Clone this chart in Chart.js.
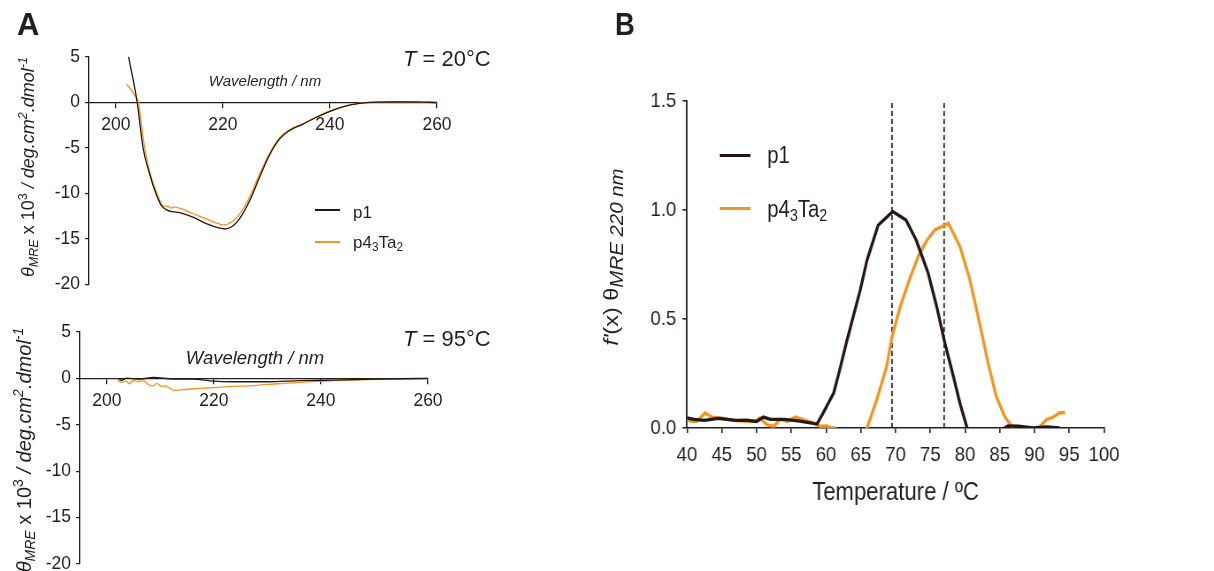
<!DOCTYPE html>
<html>
<head>
<meta charset="utf-8">
<script src="https://cdn.jsdelivr.net/npm/chart.js@4"></script>
<style>
body { margin: 0; width: 1214px; height: 571px; overflow: hidden; background: #fff; position: relative;
       font-family: "Liberation Sans", Arial, sans-serif; color: #231f20; }
canvas { position: absolute; }
.t { position: absolute; white-space: nowrap; line-height: 1; }
.c { transform: translate(-50%, -50%); }
.r { transform: translate(-50%, -50%) rotate(-90deg); }
.v { transform: translateY(-50%); }
sub, sup { font-size: 0.7em; line-height: 0; }
sub { vertical-align: -0.3em; }
sup { vertical-align: 0.55em; }
.sw { position: absolute; }
#panelB { position: absolute; left: 600px; top: 0; width: 640px; height: 571px; transform: scaleX(0.885); transform-origin: 0 0; }
</style>
</head>
<body>

<canvas id="cd20" width="470" height="300" style="left:0;top:0"></canvas>
<canvas id="cd95" width="470" height="290" style="left:0;top:300px"></canvas>

<div class="t" style="left:17px;top:9px;font-size:31px;font-weight:bold">A</div>
<div class="t" style="left:403px;top:48px;font-size:22px"><i>T</i> = 20°C</div>
<div class="t" style="left:403px;top:328px;font-size:22px"><i>T</i> = 95°C</div>
<div class="t c" style="left:265px;top:80px;font-size:15px;font-style:italic">Wavelength / nm</div>
<div class="t c" style="left:255px;top:358px;font-size:18.5px;font-style:italic">Wavelength / nm</div>
<div class="t r" style="left:28px;top:167px;font-size:18px"><i>θ<sub>MRE</sub></i> x 10<sup>3</sup> <i>/ deg.cm<sup>2</sup>.dmol<sup>-1</sup></i></div>
<div class="t r" style="left:24px;top:450px;font-size:20px"><i>θ<sub>MRE</sub></i> x 10<sup>3</sup> <i>/ deg.cm<sup>2</sup>.dmol<sup>-1</sup></i></div>

<div class="sw" style="left:315px;top:209.4px;width:25px;height:1.3px;background:#231815"></div>
<div class="t v" style="left:353px;top:212px;font-size:17px">p1</div>
<div class="sw" style="left:315px;top:241.4px;width:25px;height:1.3px;background:#f7941d"></div>
<div class="t v" style="left:353px;top:242px;font-size:17px">p4<sub>3</sub>Ta<sub>2</sub></div>

<div id="panelB">
  <canvas id="deriv" width="640" height="571" style="left:0;top:0"></canvas>
  <div class="t" style="left:17px;top:9px;font-size:31px;font-weight:bold">B</div>
  <div class="t r" style="left:13px;top:257px;font-size:23.5px"><i>f'</i>(x) θ<sub style="font-size:0.87em"><i>MRE 220 nm</i></sub></div>
  <div class="sw" style="left:134.5px;top:153.5px;width:35px;height:3px;background:#231815"></div>
  <div class="t v" style="left:189px;top:155px;font-size:23px">p1</div>
  <div class="sw" style="left:134.5px;top:206.8px;width:35px;height:3px;background:#f7941d"></div>
  <div class="t v" style="left:189px;top:209px;font-size:23px">p4<sub>3</sub>Ta<sub>2</sub></div>
</div>

<script>
// panel A, CD spectra
const wlTicks = [200, 220, 240, 260];
const cdTicks = [5, 0, -5, -10, -15, -20];

const wl20P1 = [202.4, 204, 205.1, 206.3, 207.5, 208.5, 209.5, 210.5, 211.9, 214.4, 216.9, 219.4, 220.3, 221.8, 223.1, 225, 226.8, 228.7, 230.6, 232.4, 234.9, 237.4, 239.9, 242.4, 245.5, 248.6, 251.7, 255.5, 260];
const th20P1 = [5.0, 0, -5, -7.8, -10, -11.3, -11.8, -12.0, -12.1, -12.6, -13.3, -13.8, -13.9, -13.6, -12.8, -10.8, -8.3, -5.8, -4.0, -3.1, -2.4, -1.65, -1.0, -0.47, -0.1, 0.04, 0.07, 0.07, 0];
const wl20P4 = [202.0, 202.9, 203.5, 204.2, 205.4, 206.5, 207.7, 208.8, 209.7, 210.3, 210.9, 211.9, 214.4, 216.9, 219.4, 220.3, 221.8, 223.1, 225, 226.8, 228.7, 230.6, 232.4, 234.9, 237.4, 239.9, 242.4, 245.5, 248.6, 251.7, 255.5, 260];
const th20P4 = [2.0, 1.4, 0.8, 0, -5, -8.0, -10, -11.35, -11.4, -11.6, -11.5, -11.6, -12.2, -12.8, -13.35, -13.45, -13.05, -12.3, -10.4, -7.95, -5.6, -3.9, -3.0, -2.35, -1.6, -0.95, -0.45, -0.08, 0.05, 0.08, 0.07, 0];

const wl95P1 = [202.2, 202.8, 203.7, 206.2, 208.7, 212.4, 216.2, 219.9, 223.6, 229.9, 236.1, 242.3, 248.5, 254.7, 260];
const th95P1 = [0, -0.2, 0.04, -0.07, 0.1, -0.07, -0.07, -0.3, -0.36, -0.36, -0.25, -0.18, -0.11, -0.04, 0];
const wl95P4 = [202, 202.8, 203.6, 204.2, 205, 205.9, 206.8, 207.8, 208.7, 209.3, 210.3, 210.9, 211.8, 212.7, 214, 217.4, 219.9, 223.6, 226.7, 229.9, 233, 236.1, 239.2, 242.3, 248.5, 254.7, 260];
const th95P4 = [-0.2, -0.43, -0.29, -0.58, -0.2, -0.36, -0.25, -0.68, -0.8, -0.54, -0.86, -0.8, -1.08, -1.3, -1.22, -1.08, -1.0, -0.86, -0.8, -0.65, -0.54, -0.43, -0.32, -0.25, -0.14, -0.07, 0];

// panel B, first derivative of the melt at 220 nm
const tempTicks = [40, 45, 50, 55, 60, 65, 70, 75, 80, 85, 90, 95, 100];
const derivTicks = [0, 0.5, 1.0, 1.5];
const tmLines = [69.5, 77.0];

const tempP1 = [40, 41, 42.5, 44.5, 47, 48.5, 50, 51, 52, 54, 56, 58.7, 59.5, 61.1, 62, 63, 64.9, 65.9, 67.5, 69.6, 71.5, 73, 74.7, 75.9, 77.1, 78.3, 79.3, 80.3, 82, 84, 85.7, 86.2, 87.7, 89.8, 91.7, 93.6];
const derivP1 = [0.046, 0.04, 0.035, 0.044, 0.035, 0.036, 0.03, 0.05, 0.04, 0.04, 0.033, 0.018, 0.064, 0.16, 0.27, 0.40, 0.63, 0.77, 0.93, 0.993, 0.954, 0.86, 0.71, 0.56, 0.39, 0.24, 0.11, 0, -0.12, -0.1, 0, 0.01, 0.008, 0, 0.005, 0];
const tempP4 = [40, 40.7, 41.4, 42.6, 43.6, 44.8, 46.7, 48.6, 49.8, 50.5, 51.5, 52.5, 53.4, 54.4, 55.6, 56.8, 58.2, 59.2, 60.1, 60.8, 61.3, 63.5, 65.9, 67.3, 68.7, 69.5, 70.7, 72.1, 73.3, 74.5, 75.7, 77.4, 77.6, 79.3, 80.7, 82.1, 83.3, 84.5, 85.7, 86.9, 88.7, 90.6, 91.7, 92.7, 93.6, 94.4];
const derivP4 = [0.038, 0.03, 0.03, 0.069, 0.05, 0.046, 0.035, 0.03, 0.03, 0.046, 0.015, 0.008, 0.04, 0.03, 0.05, 0.038, 0.023, 0.008, 0.01, 0, 0, -0.1, 0, 0.13, 0.28, 0.42, 0.56, 0.69, 0.79, 0.86, 0.91, 0.935, 0.94, 0.83, 0.68, 0.48, 0.30, 0.145, 0.053, 0, -0.05, 0, 0.038, 0.05, 0.07, 0.07];

const BLACK = '#231815';
const ORANGE = '#f7941d';
const AXIS = '#231f20';

Chart.defaults.font.family = "'Liberation Sans', Arial, sans-serif";
Chart.defaults.color = AXIS;

const pts = (xs, ys) => xs.map((x, i) => ({ x: x, y: ys[i] }));
const fixTicks = vals => scale => { scale.ticks = vals.map(v => ({ value: v })); };

function cdChart(id, ax, p1x, p1y, p4x, p4y) {
    return new Chart(document.getElementById(id), {
        type: 'line',
        data: {
            datasets: [
                { label: 'p1', data: pts(p1x, p1y), borderColor: BLACK, borderWidth: 1.3, pointRadius: 0, cubicInterpolationMode: 'monotone' },
                { label: 'p4₃Ta₂', data: pts(p4x, p4y), borderColor: ORANGE, borderWidth: 1.3, pointRadius: 0, cubicInterpolationMode: 'monotone' }
            ]
        },
        options: {
            responsive: false,
            animation: false,
            devicePixelRatio: 1,
            layout: { padding: ax.pad },
            plugins: { legend: { display: false }, tooltip: { enabled: false } },
            scales: {
                x: {
                    type: 'linear', position: { y: 0 }, min: 195, max: 260, bounds: 'data',
                    afterBuildTicks: fixTicks(wlTicks),
                    grid: { drawOnChartArea: false, tickLength: 5, color: AXIS, lineWidth: 1.2 },
                    border: { color: AXIS, width: 1.3 },
                    ticks: { font: { size: 17.5 }, padding: 7, maxRotation: 0, autoSkip: false }
                },
                y: {
                    type: 'linear', min: -20, max: 5, bounds: 'data',
                    afterBuildTicks: fixTicks(cdTicks),
                    afterFit: s => { s.width = ax.yw; },
                    grid: { drawOnChartArea: false, tickLength: 4, color: AXIS, lineWidth: 1.2 },
                    border: { color: AXIS, width: 1.3 },
                    ticks: { font: { size: 17.5 }, padding: 5, autoSkip: false }
                }
            }
        }
    });
}

cdChart('cd20', { pad: { left: 0, top: 57, right: 33, bottom: 11 }, yw: 89 }, wl20P1, th20P1, wl20P4, th20P4);
cdChart('cd95', { pad: { left: 0, top: 32, right: 42, bottom: 26 }, yw: 80 }, wl95P1, th95P1, wl95P4, th95P4);

const dashed = tmLines.map(t => ({
    data: pts([t, t], [0, 1.5]), borderColor: BLACK, borderWidth: 1.6, borderDash: [5, 3], pointRadius: 0
}));

new Chart(document.getElementById('deriv'), {
    type: 'line',
    data: {
        datasets: [
            { label: 'p1', data: pts(tempP1, derivP1), borderColor: BLACK, borderWidth: 3.3, pointRadius: 0, tension: 0 },
            { label: 'p4₃Ta₂', data: pts(tempP4, derivP4), borderColor: ORANGE, borderWidth: 3.3, pointRadius: 0, tension: 0 }
        ].concat(dashed)
    },
    options: {
        responsive: false,
        animation: false,
        devicePixelRatio: 1,
        layout: { padding: { left: 0, top: 101, right: 70.5, bottom: 63 } },
        plugins: { legend: { display: false }, tooltip: { enabled: false } },
        scales: {
            x: {
                type: 'linear', min: 40, max: 100, bounds: 'data',
                afterBuildTicks: fixTicks(tempTicks),
                afterFit: s => { s.height = 80; },
                grid: { drawOnChartArea: false, tickLength: 5, color: AXIS, lineWidth: 1.6 },
                border: { color: AXIS, width: 1.6 },
                ticks: { font: { size: 21 }, padding: 10, maxRotation: 0, autoSkip: false },
                title: { display: true, text: 'Temperature / ºC', font: { size: 25 }, padding: 0 }
            },
            y: {
                type: 'linear', min: 0, max: 1.5, bounds: 'data',
                afterBuildTicks: fixTicks(derivTicks),
                afterFit: s => { s.width = 98.3; },
                grid: { drawOnChartArea: false, tickLength: 5, color: AXIS, lineWidth: 1.6 },
                border: { color: AXIS, width: 1.8 },
                ticks: { font: { size: 21 }, padding: 7, autoSkip: false, callback: v => v.toFixed(1) }
            }
        }
    }
});
</script>
</body>
</html>
